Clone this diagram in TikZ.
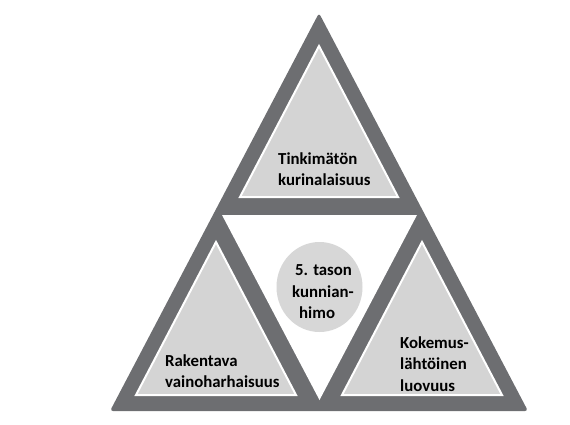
\documentclass[tikz,border=0pt]{standalone}
\usepackage{fontspec}
\usetikzlibrary{shapes.geometric}
\setmainfont{Carlito}
\definecolor{darkg}{HTML}{6D6E71}
\definecolor{lightg}{HTML}{D4D4D4}
\definecolor{circg}{HTML}{D7D7D7}
\begin{document}
\begin{tikzpicture}[x=1bp,y=-1bp,
  lab/.style={inner sep=0pt,anchor=west,align=left,font=\bfseries\fontsize{16.8bp}{21.5bp}\selectfont},
  inner/.style={fill=lightg,draw=white,line width=2bp,line join=miter}]
\useasboundingbox (0,0) rectangle (570,424);
\fill[darkg,rounded corners=3bp] (319,13) -- (528,411) -- (110,411) -- cycle;
\fill[white] (222,215) -- (417,215) -- (319.5,400) -- cycle;
\path[inner] (319,46) -- (398,197) -- (240,197) -- cycle;
\path[inner] (216,242) -- (296,395) -- (136,395) -- cycle;
\path[inner] (422,242) -- (502,395) -- (342,395) -- cycle;
\node[ellipse,fill=circg,minimum width=86bp,minimum height=90bp,inner sep=0pt] (c) at (319.5,287) {};
\node[lab] (t1) at (278,169) {Tinkimätön\\kurinalaisuus};
\node[lab] (t2) at (165,371) {Rakentava\\vainoharhaisuus};
\node[lab] (t3) at (400,364) {Kokemus-\\lähtöinen\\luovuus};
\node[lab] (t4) at (292,292) {\hspace*{3bp}5. tason\\kunnian-\\\hspace*{7bp}himo};
\end{tikzpicture}
\end{document}
